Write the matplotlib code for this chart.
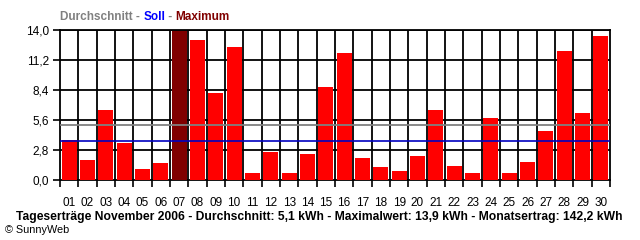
import matplotlib
matplotlib.use("Agg")
import matplotlib.pyplot as plt
import numpy as np

plt.rcParams['font.family'] = ['Liberation Sans', 'DejaVu Sans']

days = ["%02d" % d for d in range(1, 31)]
values = [3.7, 1.9, 6.5, 3.5, 1.0, 1.6, 13.9, 13.1, 8.1, 12.4,
          0.7, 2.6, 0.7, 2.4, 8.7, 11.9, 2.1, 1.2, 0.8, 2.2,
          6.5, 1.3, 0.7, 5.8, 0.7, 1.7, 4.6, 12.0, 6.3, 13.4]
average = 5.1
target = 3.6
yticks = [0.0, 2.8, 5.6, 8.4, 11.2, 14.0]
ytick_labels = ["0,0", "2,8", "5,6", "8,4", "11,2", "14,0"]
footer = "Tageserträge November 2006 - Durchschnitt: 5,1 kWh - Maximalwert: 13,9 kWh - Monatsertrag: 142,2 kWh"

fig = plt.figure(figsize=(6.4, 2.4), dpi=100)
ax = fig.add_axes([60/640, 1-180/240, 550/640, 150/240])

x = np.arange(1, 31)
imax = int(np.argmax(values))
colors = ["#FF0000"] * 30
colors[imax] = "#800000"
ax.bar(x, values, width=0.82, color=colors, zorder=3, linewidth=0)

ax.set_xlim(0.5, 30.5)
ax.set_ylim(0, 14.0)
ax.set_yticks(yticks)
ax.set_yticklabels(ytick_labels)
ax.set_xticks(x)
ax.set_xticklabels(days)
ax.set_xticks(np.arange(0.5, 31, 1), minor=True)
ax.tick_params(axis="x", which="major", length=0, pad=12, labelsize=8.5)
ax.tick_params(axis="x", which="minor", length=5, width=1.2, direction="out")
ax.tick_params(axis="y", which="major", length=5, width=1.2, direction="out", labelsize=8.5, pad=3)

for yv in yticks[1:]:
    ax.axhline(yv, color="black", lw=1.3, zorder=1)
for xv in np.arange(1.5, 30.5, 1):
    ax.axvline(xv, color="black", lw=1.3, zorder=1)

ax.axhline(average, color="#808080", lw=1.3, zorder=4)
ax.axhline(target, color="#0000C0", lw=1.2, zorder=4)

for s in ax.spines.values():
    s.set_linewidth(1.3)
    s.set_color("black")

fig.canvas.draw()
r = fig.canvas.get_renderer()

# title (scaled to reference width 60..230 px)
parts = [("Durchschnitt - ", "#808080"), ("Soll", "#0000FF"), (" - ", "#808080"), ("Maximum", "#800000")]
def draw_title(fs):
    objs = []
    xpos = 60.0
    for txt, col in parts:
        t = fig.text(xpos/640, 1-17/240, txt, color=col, fontsize=fs, fontweight="bold", va="center")
        bb = t.get_window_extent(r)
        xpos = bb.x1
        objs.append(t)
    return objs, xpos
objs, xend = draw_title(8.0)
scale = (230-60)/(xend-60)
for o in objs:
    o.remove()
draw_title(8.0*scale)

# footer scaled to 16..623 px
ft = fig.text(16/640, 1-217/240, footer, color="black", fontsize=8.0, fontweight="bold", va="center")
w = ft.get_window_extent(r).width
ft.set_fontsize(8.0*(623-16)/w)

fig.text(5/640, 1-230/240, "© SunnyWeb", color="black", fontsize=7.8, va="center")

fig.savefig("out.png", dpi=100)
